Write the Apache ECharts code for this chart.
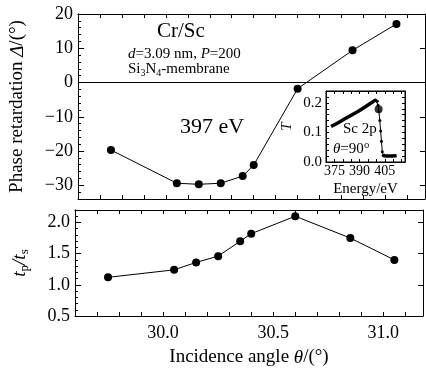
<!DOCTYPE html>
<html><head><meta charset="utf-8">
<script src="https://cdn.jsdelivr.net/npm/echarts@6/dist/echarts.min.js"></script>
<style>html,body{margin:0;padding:0;background:#fff}#c{width:426px;height:373px}</style>
</head><body><div id="c"></div>
<script>
// ---- data ----
const angles = [29.75, 30.05, 30.15, 30.25, 30.35, 30.40, 30.60, 30.85, 31.05];
const phaseRetardation = [-19.7, -29.4, -29.7, -29.4, -27.3, -24.1, -1.8, 9.4, 17.1];
const tpOverTs = [1.12, 1.24, 1.36, 1.46, 1.70, 1.82, 2.10, 1.75, 1.40];
const risingEnergy = [373, 377, 381, 385, 389, 393, 397, 399.5];
const risingT = [0.120, 0.132, 0.145, 0.158, 0.171, 0.185, 0.200, 0.210];
const edgeEnergy = [399.5, 400.5, 401, 401.5, 402, 402.5, 403, 403.5, 404];
const edgeT = [0.210, 0.205, 0.192, 0.170, 0.140, 0.105, 0.070, 0.035, 0.022];
const tailEnergy = [404, 406, 409, 412];
const tailT = [0.022, 0.020, 0.020, 0.021];
const markerEnergy = [401.3];
const markerT = [0.178];
const phaseTicks = [-30, -20, -10, 0, 10, 20];
const ratioTicks = [0.5, 1.0, 1.5, 2.0];
const angleTicks = [30.0, 30.5, 31.0];
const energyTicks = [375, 390, 405];
const tTicks = [0.0, 0.1, 0.2];

const FF = '"Liberation Serif","DejaVu Serif",serif';
const BL = '#000';
const pick = (ticks, fmt) => v => { const t = ticks.find(t => Math.abs(t - v) < 1e-6); return t === undefined ? '' : fmt(t); };
const line = { show: true, onZero: false, lineStyle: { color: BL, width: 1 } };
function ax(o) {
  return Object.assign({
    type: 'value', axisLine: line, splitLine: { show: false },
    axisTick: { show: true, inside: true, length: 4, lineStyle: { color: BL } },
    axisLabel: { show: false }
  }, o);
}
const lab = (ticks, fmt, size, margin) => ({ show: true, formatter: pick(ticks, fmt), color: BL, fontFamily: FF, fontSize: size, margin: margin, hideOverlap: false });
const majorTick = (vals, len) => ({ show: true, inside: true, length: len, customValues: vals, lineStyle: { color: BL } });

const xMain = { min: 29.6, max: 31.18, interval: 0.1 };
const opt = {
  animation: false,
  backgroundColor: '#fff',
  grid: [
    { left: 75, top: 14, width: 350, height: 185, show: false },
    { left: 75, top: 210, width: 350, height: 106, show: false },
    { left: 326, top: 91, width: 79, height: 71, show: true, backgroundColor: '#fff', borderColor: BL, borderWidth: 1, z: 5 }
  ],
  xAxis: [
    ax(Object.assign({ gridIndex: 0, position: 'bottom' }, xMain)),
    ax(Object.assign({ gridIndex: 0, position: 'top' }, xMain)),
    ax(Object.assign({ gridIndex: 1, position: 'bottom', axisLabel: lab(angleTicks, t => t.toFixed(1), 18, 8),
      name: '{n|Incidence angle }{i|θ}{n|/(°)}', nameLocation: 'middle', nameGap: 32,
      nameTextStyle: { color: BL, fontFamily: FF, fontSize: 19, rich: { n: { fontFamily: FF, fontSize: 19, color: BL }, i: { fontFamily: FF, fontSize: 19, fontStyle: 'italic', color: BL } } } }, xMain)),
    ax(Object.assign({ gridIndex: 1, position: 'top' }, xMain)),
    ax({ gridIndex: 2, position: 'bottom', min: 370, max: 417, interval: 5, z: 6, axisTick: { show: true, inside: true, length: 3, lineStyle: { color: BL } },
      axisLabel: lab(energyTicks, t => String(t), 14, 2),
      name: 'Energy/eV', nameLocation: 'middle', nameGap: 20, nameTextStyle: { color: BL, fontFamily: FF, fontSize: 15 } }),
    ax({ gridIndex: 2, position: 'top', min: 370, max: 417, interval: 5, z: 6, axisTick: { show: true, inside: true, length: 3, lineStyle: { color: BL } } })
  ],
  yAxis: [
    ax({ gridIndex: 0, position: 'left', min: -34, max: 20, interval: 2, axisTick: { show: true, inside: true, length: 3, lineStyle: { color: BL } },
      axisLabel: lab(phaseTicks, t => String(t).replace('-', '−'), 18, 5),
      name: '{n|Phase retardation }{i|Δ}{n|/(°)}', nameLocation: 'middle', nameGap: 51,
      nameTextStyle: { color: BL, fontFamily: FF, fontSize: 19, rich: { n: { fontFamily: FF, fontSize: 19, color: BL }, i: { fontFamily: FF, fontSize: 19, fontStyle: 'italic', color: BL } } } }),
    ax({ gridIndex: 0, position: 'left', min: -34, max: 20, axisTick: majorTick(phaseTicks, 6) }),
    ax({ gridIndex: 0, position: 'right', min: -34, max: 20, axisTick: majorTick(phaseTicks, 5) }),
    ax({ gridIndex: 1, position: 'left', min: 0.5, max: 2.2, interval: 0.1, axisTick: { show: true, inside: true, length: 3, lineStyle: { color: BL } },
      axisLabel: lab(ratioTicks, t => t.toFixed(1), 18, 5),
      name: '{i|t}{s|p}{i|/t}{s|s}', nameLocation: 'middle', nameGap: 44,
      nameTextStyle: { color: BL, fontFamily: FF, fontSize: 19, rich: { i: { fontFamily: FF, fontSize: 19, fontStyle: 'italic', color: BL, lineHeight: 22 }, s: { fontFamily: FF, fontSize: 13, color: BL, verticalAlign: 'bottom', lineHeight: 22, padding: [8, 0, 0, 0] } } } }),
    ax({ gridIndex: 1, position: 'left', min: 0.5, max: 2.2, axisTick: majorTick(ratioTicks, 6) }),
    ax({ gridIndex: 1, position: 'right', min: 0.5, max: 2.2, axisTick: majorTick(ratioTicks, 5) }),
    ax({ gridIndex: 2, position: 'left', min: 0, max: 0.24, interval: 0.02, z: 6, axisTick: { show: true, inside: true, length: 3, lineStyle: { color: BL } },
      axisLabel: lab(tTicks, t => t.toFixed(1), 15, 4),
      name: 'T', nameLocation: 'middle', nameGap: 31, nameTextStyle: { color: BL, fontFamily: FF, fontSize: 15, fontStyle: 'italic' } }),
    ax({ gridIndex: 2, position: 'right', min: 0, max: 0.24, interval: 0.02, z: 6, axisTick: { show: true, inside: true, length: 3, lineStyle: { color: BL } } })
  ],
  series: [
    { type: 'line', xAxisIndex: 0, yAxisIndex: 0, data: angles.map((a, i) => [a, phaseRetardation[i]]),
      symbol: 'circle', symbolSize: 8, itemStyle: { color: BL }, lineStyle: { color: BL, width: 1 }, z: 3,
      markLine: { silent: true, symbol: 'none', label: { show: false }, lineStyle: { color: BL, width: 1, type: 'solid' }, data: [{ yAxis: 0 }] } },
    { type: 'line', xAxisIndex: 2, yAxisIndex: 3, data: angles.map((a, i) => [a, tpOverTs[i]]),
      symbol: 'circle', symbolSize: 8, itemStyle: { color: BL }, lineStyle: { color: BL, width: 1 } },
    { type: 'line', xAxisIndex: 4, yAxisIndex: 6, data: risingEnergy.map((e, i) => [e, risingT[i]]), z: 7,
      symbol: 'none', lineStyle: { color: BL, width: 3.5 } },
    { type: 'line', xAxisIndex: 4, yAxisIndex: 6, data: edgeEnergy.map((e, i) => [e, edgeT[i]]), z: 7,
      symbol: 'circle', symbolSize: 3, itemStyle: { color: BL }, lineStyle: { color: BL, width: 1 } },
    { type: 'line', xAxisIndex: 4, yAxisIndex: 6, data: tailEnergy.map((e, i) => [e, tailT[i]]), z: 7,
      symbol: 'none', lineStyle: { color: BL, width: 3.5 } },
    { type: 'scatter', xAxisIndex: 4, yAxisIndex: 6, data: markerEnergy.map((e, i) => [e, markerT[i]]), z: 8,
      symbol: 'circle', symbolSize: 8, itemStyle: { color: BL } }
  ],
  graphic: [
    { type: 'text', left: 157, top: 21, z: 10, style: { text: 'Cr/Sc', font: '21px ' + FF, fill: BL } },
    { type: 'text', left: 128, top: 47, z: 10, style: { text: '{i|d}=3.09 nm, {i|P}=200', fill: BL, font: '15px ' + FF,
      rich: { i: { fontFamily: FF, fontSize: 15, fontStyle: 'italic' } } } },
    { type: 'text', left: 128, top: 62, z: 10, style: { text: '{n|Si}{s|3}{n|N}{s|4}{n|-membrane}', fill: BL,
      rich: { n: { fontFamily: FF, fontSize: 15, lineHeight: 17 }, s: { fontFamily: FF, fontSize: 10, lineHeight: 17, verticalAlign: 'bottom', padding: [5, 0, 0, 0] } } } },
    { type: 'text', left: 180, top: 116, z: 10, style: { text: '397 eV', font: '22px ' + FF, fill: BL } },
    { type: 'text', left: 343, top: 122, z: 10, style: { text: 'Sc 2p', font: '15px ' + FF, fill: BL } },
    { type: 'text', left: 333, top: 142, z: 10, style: { text: '{i|θ}=90°', fill: BL, font: '15px ' + FF,
      rich: { i: { fontFamily: FF, fontSize: 15, fontStyle: 'italic' } } } }
  ]
};
const chart = echarts.init(document.getElementById('c'), null, { renderer: 'canvas' });
chart.setOption(opt);
</script></body></html>
